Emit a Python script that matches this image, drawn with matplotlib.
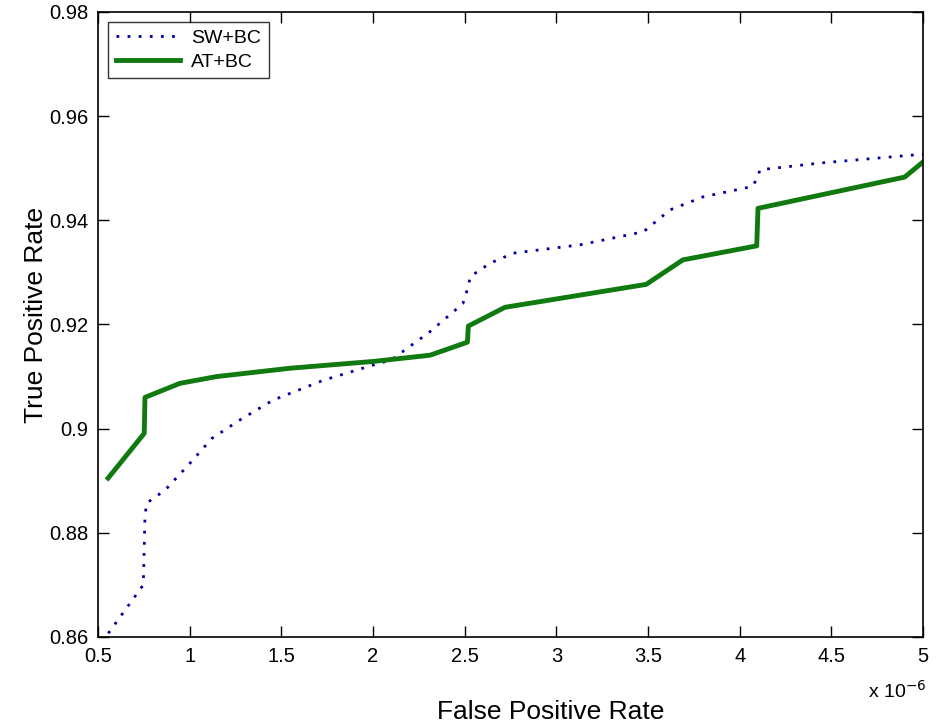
import matplotlib
matplotlib.use('Agg')
import matplotlib.pyplot as plt
from matplotlib.ticker import FormatStrFormatter

plt.rcParams['font.family'] = ['Liberation Sans', 'DejaVu Sans']

# false positive rate in units of 1e-6
sw_fpr = [0.556, 0.747, 0.756, 0.765, 0.866, 1.0, 1.12, 1.275, 1.456, 1.73, 2.0,
          2.1, 2.31, 2.49, 2.52, 2.53, 2.64, 2.767, 3.13, 3.475, 3.62, 3.80, 4.07,
          4.10, 4.11, 4.44, 5.0]
sw_tpr = [0.8607, 0.870, 0.8831, 0.8857, 0.8882, 0.8933, 0.8981, 0.9017, 0.9055,
          0.9093, 0.9122, 0.9132, 0.9186, 0.924, 0.9273, 0.9292, 0.9318, 0.9337,
          0.9353, 0.9378, 0.942, 0.9445, 0.9465, 0.9484, 0.9497, 0.951, 0.9527]

at_fpr = [0.555, 0.752, 0.756, 0.947, 1.147, 1.547, 2.0, 2.311, 2.515, 2.52, 2.72,
          3.49, 3.69, 4.093, 4.10, 4.9, 5.0]
at_tpr = [0.8905, 0.8991, 0.906, 0.9087, 0.910, 0.9116, 0.9129, 0.9141, 0.9166,
          0.9197, 0.9233, 0.9277, 0.9324, 0.9351, 0.9423, 0.9483, 0.9512]

fig = plt.figure(figsize=(9.49, 7.26), dpi=100)
ax = fig.add_axes([0.1033, 0.1226, 0.8693, 0.8609])

ax.plot(sw_fpr, sw_tpr, color='#0000a0', linestyle=(0, (1, 3)), linewidth=2,
        label='SW+BC')
ax.plot(at_fpr, at_tpr, color='#107a10', linestyle='-', linewidth=3.5, label='AT+BC')

ax.set_xlim(0.5, 5)
ax.set_ylim(0.86, 0.98)
ax.set_xticks([0.5, 1, 1.5, 2, 2.5, 3, 3.5, 4, 4.5, 5])
ax.set_yticks([0.86, 0.88, 0.9, 0.92, 0.94, 0.96, 0.98])
ax.xaxis.set_major_formatter(FormatStrFormatter('%g'))
ax.yaxis.set_major_formatter(FormatStrFormatter('%g'))
ax.tick_params(direction='in', length=8, width=1, top=True, right=True,
               labelsize=14.5, pad=7)
for s in ax.spines.values():
    s.set_linewidth(1.2)

ax.set_xlabel('False Positive Rate', fontsize=19, labelpad=25)
ax.set_ylabel('True Positive Rate', fontsize=19, labelpad=1)
ax.xaxis.label.set_x(0.549)
ax.yaxis.label.set_y(0.515)
ax.text(1.004, -0.068, r'x 10$^{-6}$', transform=ax.transAxes, ha='right',
        va='top', fontsize=14)

leg = ax.legend(loc='upper left', fontsize=14, frameon=True, fancybox=False,
                handlelength=3.3, borderaxespad=0.5, labelspacing=0.3,
                handletextpad=0.6, borderpad=0.4)
leg.get_frame().set_edgecolor('black')
leg.get_frame().set_linewidth(1.0)

fig.savefig('out.png', dpi=100)
